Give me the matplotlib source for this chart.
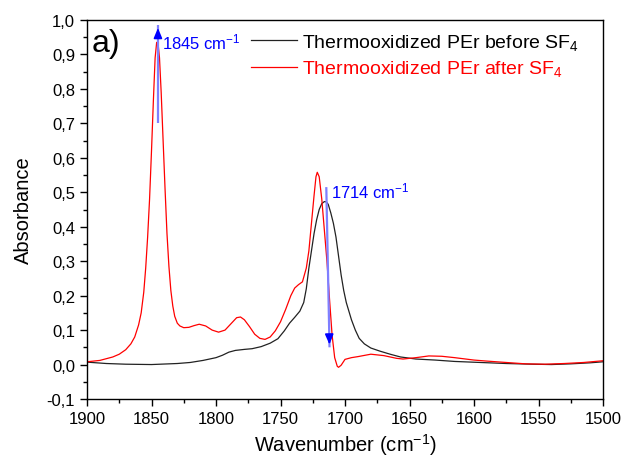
import matplotlib
matplotlib.use("Agg")
import matplotlib.pyplot as plt
from matplotlib.ticker import MultipleLocator, FuncFormatter

plt.rcParams['font.family'] = ['Liberation Sans', 'DejaVu Sans']
plt.rcParams['axes.unicode_minus'] = False
plt.rcParams['mathtext.fontset'] = 'custom'
plt.rcParams['mathtext.rm'] = 'Liberation Sans'
plt.rcParams['mathtext.it'] = 'Liberation Sans'
plt.rcParams['mathtext.default'] = 'regular'

# --- data -------------------------------------------------------------
wn_after = [1900, 1890, 1880, 1875, 1870, 1866, 1863, 1860, 1858, 1856, 1854.5, 1853,
            1851.5, 1850, 1848.5, 1847.2, 1846, 1845, 1843.8, 1842.5, 1841, 1839.5,
            1838, 1836.5, 1835, 1833.5, 1832, 1830, 1828, 1825, 1821, 1817,
            1813, 1808, 1803, 1798, 1793, 1788, 1784, 1781, 1778, 1774, 1770,
            1766, 1762, 1758, 1754, 1750, 1746, 1742, 1739, 1736, 1733, 1730, 1728,
            1726, 1724, 1722.5, 1721.5, 1720, 1718, 1716, 1714, 1712, 1710, 1708,
            1706, 1705, 1703, 1700, 1695, 1690, 1680, 1670, 1660, 1655, 1645, 1635,
            1625, 1615, 1600, 1590, 1575, 1560, 1545, 1530, 1515, 1500]
abs_after = [0.008, 0.012, 0.022, 0.030, 0.043, 0.060, 0.080, 0.115, 0.150, 0.210, 0.280, 0.370,
             0.480, 0.620, 0.770, 0.890, 0.935, 0.935, 0.890, 0.790, 0.650, 0.510,
             0.380, 0.285, 0.215, 0.170, 0.140, 0.120, 0.112, 0.107, 0.108, 0.113,
             0.117, 0.112, 0.100, 0.094, 0.100, 0.120, 0.136, 0.138, 0.130, 0.110, 0.088,
             0.076, 0.073, 0.080, 0.098, 0.124, 0.16, 0.20, 0.222, 0.232, 0.240, 0.28, 0.33,
             0.41, 0.49, 0.545, 0.558, 0.545, 0.48, 0.39, 0.30, 0.19, 0.085, 0.02,
             -0.005, -0.008, -0.002, 0.015, 0.02, 0.023, 0.030, 0.026, 0.018, 0.016, 0.02, 0.025,
             0.024, 0.02, 0.013, 0.01, 0.006, 0.002, 0.001, 0.003, 0.006, 0.011]

wn_before = [1900, 1885, 1870, 1850, 1830, 1820, 1810, 1800, 1795, 1790, 1785, 1778,
             1772, 1765, 1758, 1752, 1747, 1743, 1739, 1735, 1732, 1730, 1728, 1726,
             1724, 1722, 1720, 1718, 1716, 1714.5, 1713, 1711, 1709, 1707, 1705, 1703,
             1701, 1699, 1697, 1695, 1692, 1689, 1685, 1680, 1673, 1665, 1657, 1645,
             1630, 1615, 1595, 1575, 1555, 1540, 1525, 1510, 1500]
abs_before = [0.007, 0.003, 0.001, 0.0, 0.003, 0.006, 0.012, 0.02, 0.027, 0.036, 0.041, 0.044,
              0.046, 0.052, 0.062, 0.075, 0.098, 0.12, 0.137, 0.155, 0.18, 0.22, 0.28, 0.33,
              0.38, 0.42, 0.45, 0.467, 0.473, 0.472, 0.465, 0.44, 0.41, 0.37, 0.315, 0.26,
              0.215, 0.18, 0.155, 0.13, 0.10, 0.076, 0.06, 0.048, 0.039, 0.03, 0.022, 0.016,
              0.013, 0.009, 0.006, 0.003, 0.001, 0.0, 0.002, 0.005, 0.008]

label_before = 'Thermooxidized PEr before SF$_4$'
label_after = 'Thermooxidized PEr after SF$_4$'

arrow1_x = [1845, 1845]
arrow1_y = [0.70, 0.985]
arrow2_x = [1714.5, 1712]
arrow2_y = [0.515, 0.05]
peak1_label = '1845 cm$^{-1}$'
peak2_label = '1714 cm$^{-1}$'

# --- figure -----------------------------------------------------------
fig = plt.figure(figsize=(6.21, 4.64), dpi=100)
ax = fig.add_axes([87/621, 64/464, (603-87)/621, (400-21)/464])

ax.plot(wn_before, abs_before, color='#222222', lw=0.9, label=label_before)
ax.plot(wn_after, abs_after, color='red', lw=0.9, label=label_after)

# arrows
ax.plot(arrow1_x, arrow1_y, color='#7f7fff', lw=1.6, solid_capstyle='butt')
ax.annotate('', xy=(arrow1_x[1], arrow1_y[1]), xytext=(arrow1_x[1], arrow1_y[1] - 0.03),
            arrowprops=dict(arrowstyle='-|>,head_length=0.6,head_width=0.25', color='blue', lw=1.2))
ax.plot(arrow2_x, arrow2_y, color='#7f7fff', lw=1.6, solid_capstyle='butt')
ax.annotate('', xy=(arrow2_x[1], arrow2_y[1]), xytext=(arrow2_x[1] + 0.16, arrow2_y[1] + 0.03),
            arrowprops=dict(arrowstyle='-|>,head_length=0.6,head_width=0.25', color='blue', lw=1.2))
ax.text(1842, 0.937, peak1_label, color='blue', fontsize=12, ha='left', va='center')
ax.text(1710.5, 0.505, peak2_label, color='blue', fontsize=12, ha='left', va='center')

ax.text(0.008, 0.978, 'a)', transform=ax.transAxes, fontsize=23, ha='left', va='top')

ax.set_xlim(1900, 1500)
ax.set_ylim(-0.1, 1.0)
ax.xaxis.set_major_locator(MultipleLocator(50))
ax.xaxis.set_minor_locator(MultipleLocator(25))
ax.yaxis.set_major_locator(MultipleLocator(0.1))
ax.yaxis.set_minor_locator(MultipleLocator(0.05))
ax.yaxis.set_major_formatter(FuncFormatter(lambda v, p: f"{v:.1f}".replace('.', ',')))
ax.tick_params(which='both', direction='out', top=False, right=False, labelsize=12)
ax.tick_params(which='major', length=5, width=1)
ax.tick_params(which='minor', length=3, width=1)
for s in ax.spines.values():
    s.set_linewidth(1)

ax.set_xlabel('Wavenumber (cm$^{-1}$)', fontsize=14.5, labelpad=4)
ax.set_ylabel('Absorbance', fontsize=14.5, labelpad=10)

leg = ax.legend(loc='upper left', bbox_to_anchor=(152/516, 1.0), frameon=False,
                fontsize=14, handlelength=2.4, handletextpad=0.25, labelspacing=0.35,
                borderaxespad=0.2)
for t, c in zip(leg.get_texts(), ['black', 'red']):
    t.set_color(c)

fig.savefig('out.png', dpi=100)
